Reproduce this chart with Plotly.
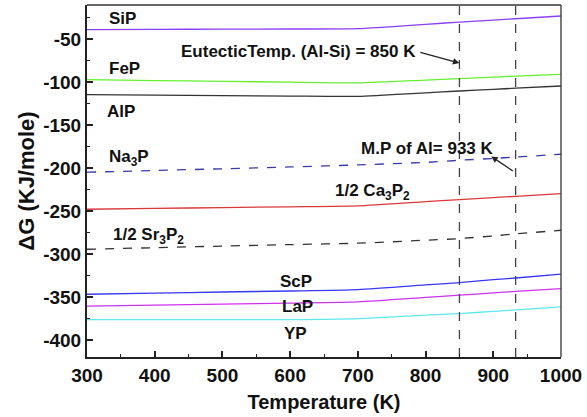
import plotly.graph_objects as go

T = [300, 400, 500, 600, 700, 800, 850, 900, 933, 1000]

SiP   = [-39.0, -38.8, -38.6, -38.4, -38.0, -33.0, -30.3, -28.0, -26.5, -23.3]
FeP   = [-97.3, -98.3, -99.2, -100.2, -101.0, -97.7, -96.0, -94.3, -93.2, -91.0]
AlP   = [-114.6, -115.2, -115.8, -116.3, -116.6, -112.5, -110.4, -108.5, -107.2, -104.6]
Na3P  = [-204.8, -202.8, -200.8, -198.7, -196.3, -193.4, -190.9, -188.8, -187.2, -183.9]
Ca3P2 = [-247.8, -246.8, -245.9, -245.0, -244.0, -239.0, -236.6, -234.3, -232.8, -229.6]
Sr3P2 = [-294.3, -292.5, -290.6, -288.9, -287.3, -283.8, -281.9, -278.8, -276.5, -272.2]
ScP   = [-346.6, -345.3, -344.0, -342.8, -341.2, -335.8, -333.0, -329.7, -327.7, -323.3]
LaP   = [-360.5, -359.2, -358.0, -356.8, -355.5, -350.3, -347.7, -345.0, -343.3, -340.0]
YP    = [-376.0, -376.0, -376.0, -376.0, -374.8, -370.8, -369.0, -366.5, -364.8, -361.3]

series = [
    ("SiP", SiP, "#8a40fa", "solid"),
    ("FeP", FeP, "#66f030", "solid"),
    ("AlP", AlP, "#333333", "solid"),
    ("Na3P", Na3P, "#3a3aa8", "dash"),
    ("1/2 Ca3P2", Ca3P2, "#d83a3a", "solid"),
    ("1/2 Sr3P2", Sr3P2, "#333333", "dash"),
    ("ScP", ScP, "#3838f8", "solid"),
    ("LaP", LaP, "#cc33f0", "solid"),
    ("YP", YP, "#5ee8ee", "solid"),
]

labels = [
    ("SiP", 353, -26.3),
    ("FeP", 355, -84.4),
    ("AlP", 350, -134.8),
    ("Na<sub>3</sub>P", 362, -188.0),
    ("1/2 Ca<sub>3</sub>P<sub>2</sub>", 722, -227.5),
    ("1/2 Sr<sub>3</sub>P<sub>2</sub>", 391, -279.0),
    ("ScP", 608, -332.3),
    ("LaP", 611, -361.3),
    ("YP", 608, -392.2),
]

vlines = [850, 933]

fig = go.Figure()
for name, ys, col, dash in series:
    fig.add_trace(go.Scatter(x=T, y=ys, mode="lines", name=name, line_shape="spline",
                             line=dict(color=col, width=1.3, dash=dash, smoothing=0.6)))

for xv in vlines:
    fig.add_trace(go.Scatter(x=[xv, xv], y=[-419.5, -10.5], mode="lines",
                             line=dict(color="#444444", width=1.3, dash="dash"),
                             showlegend=False))

font_lbl = dict(family="Arial, Liberation Sans", size=17, color="#111111")
annots = []
for txt, xx, yy in labels:
    annots.append(dict(x=xx, y=yy, text="<b>%s</b>" % txt, showarrow=False,
                       font=font_lbl, xanchor="center", yanchor="middle"))

annots.append(dict(x=612, y=-65.1, text="<b>EutecticTemp. (Al-Si) = 850 K</b>",
                   showarrow=False, font=font_lbl))
annots.append(dict(x=850, y=-78, ax=790, ay=-65.1, axref="x", ayref="y", text="",
                   showarrow=True, arrowhead=2, arrowsize=1, arrowwidth=1.3,
                   arrowcolor="#222222", standoff=0, startstandoff=0))
annots.append(dict(x=803, y=-177.3, text="<b>M.P of Al= 933 K</b>",
                   showarrow=False, font=font_lbl))
annots.append(dict(x=897, y=-186.4, ax=931, ay=-204.5, axref="x", ayref="y", text="",
                   showarrow=True, arrowhead=2, arrowsize=1, arrowwidth=1.3,
                   arrowcolor="#222222", standoff=0, startstandoff=0))

tickfont = dict(family="Arial, Liberation Sans", size=19, color="#111111")
titlefont = dict(family="Arial, Liberation Sans", size=20, color="#111111")
ytitlefont = dict(family="Arial, Liberation Sans", size=22, color="#111111")

xt = [300, 400, 500, 600, 700, 800, 900, 1000]
yt = [-400, -350, -300, -250, -200, -150, -100, -50]

fig.update_layout(
    width=587, height=417,
    margin=dict(l=87, r=23, t=5, b=60),
    paper_bgcolor="white", plot_bgcolor="white",
    showlegend=False,
    annotations=annots,
    xaxis=dict(range=[300, 1000], tickvals=xt,
               ticktext=["<b>%d</b>" % v for v in xt],
               ticks="inside", ticklen=6, tickwidth=1.5, tickcolor="#222",
               minor=dict(ticks="inside", ticklen=3, tickwidth=1.2, dtick=50, tickcolor="#222"),
               showline=True, linewidth=2, linecolor="#222", showgrid=False, zeroline=False,
               tickfont=tickfont,
               title=dict(text="<b>Temperature (K)</b>", font=titlefont, standoff=10)),
    yaxis=dict(range=[-419.5, -10.5], tickvals=yt,
               ticktext=["<b>%d</b>" % v for v in yt],
               ticks="inside", ticklen=6, tickwidth=1.5, tickcolor="#222",
               minor=dict(ticks="inside", ticklen=3, tickwidth=1.2, tick0=0, dtick=25, tickcolor="#222"),
               showline=True, linewidth=2, linecolor="#222", showgrid=False, zeroline=False,
               tickfont=tickfont,
               title=dict(text="<b>ΔG (KJ/mole)</b>", font=ytitlefont, standoff=2)),
    shapes=[
        dict(type="line", xref="paper", yref="paper", x0=0, x1=1, y0=1, y1=1,
             line=dict(color="#333", width=1.3)),
        dict(type="line", xref="paper", yref="paper", x0=1, x1=1, y0=0, y1=1,
             line=dict(color="#333", width=1.3)),
    ],
)

fig.write_html("out.html")
